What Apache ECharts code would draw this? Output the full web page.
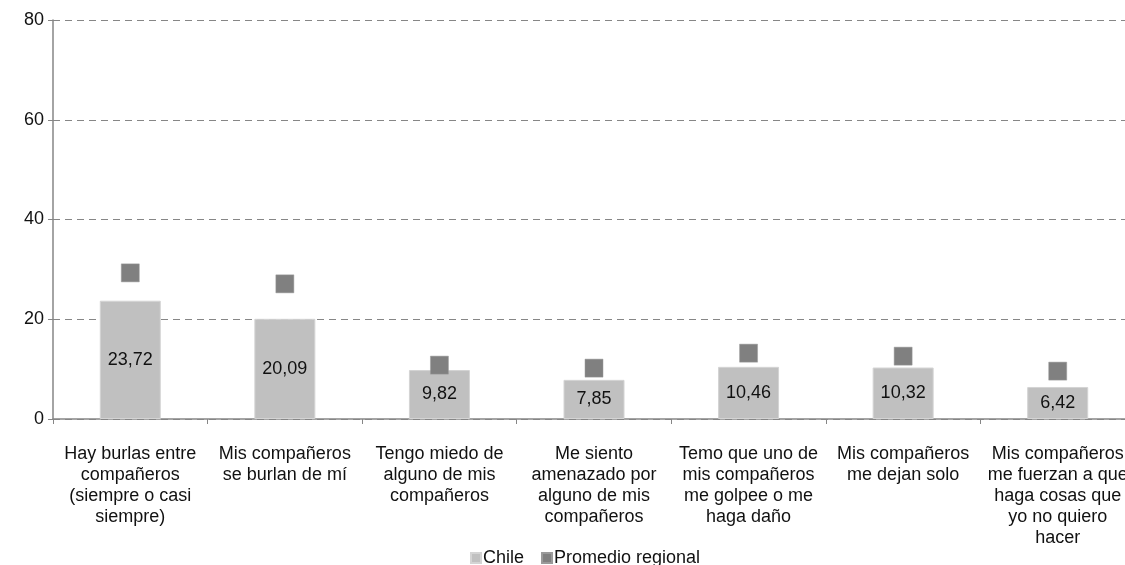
<!DOCTYPE html>
<html>
<head>
<meta charset="utf-8">
<script src="https://cdn.jsdelivr.net/npm/echarts@6/dist/echarts.min.js"></script>
<style>html,body{margin:0;padding:0;background:#fff;overflow:hidden}#c{width:1125px;height:565px}</style>
</head>
<body>
<div id="c"></div>
<script>
const categories = [
  "Hay burlas entre\ncompañeros\n(siempre o casi\nsiempre)",
  "Mis compañeros\nse burlan de mí",
  "Tengo miedo de\nalguno de mis\ncompañeros",
  "Me siento\namenazado por\nalguno de mis\ncompañeros",
  "Temo que uno de\nmis compañeros\nme golpee o me\nhaga daño",
  "Mis compañeros\nme dejan solo",
  "Mis compañeros\nme fuerzan a que\nhaga cosas que\nyo no quiero\nhacer"
];
const chile = [23.72, 20.09, 9.82, 7.85, 10.46, 10.32, 6.42];
const promedioRegional = [29.3, 27.1, 10.8, 10.2, 13.2, 12.6, 9.6];
const yTicks = [0, 20, 40, 60, 80];

const chart = echarts.init(document.getElementById('c'), null, {renderer: 'canvas'});
const font = 'Liberation Sans, Arial, sans-serif';
chart.setOption({
  animation: false,
  textStyle: {fontFamily: font},
  grid: {left: 53, width: 1082, top: 20, bottom: 146, containLabel: false, outerBoundsMode: 'none'},
  legend: {
    top: 549, left: 470, padding: [0, 0, 0, 0],
    itemWidth: 10, itemHeight: 10, itemGap: 17,
    textStyle: {fontFamily: font, fontSize: 18, color: '#111', padding: [0, 0, 0, -3]},
    data: [
      {name: 'Chile', icon: 'rect'},
      {name: 'Promedio regional', icon: 'rect'}
    ]
  },
  xAxis: {
    type: 'category',
    data: categories,
    boundaryGap: true,
    axisLine: {lineStyle: {color: '#868686', width: 1.5}},
    axisTick: {show: true, length: 5, lineStyle: {color: '#868686'}},
    axisLabel: {fontFamily: font, fontSize: 18, color: '#111', lineHeight: 21, margin: 25, interval: 0, align: 'center'}
  },
  yAxis: {
    type: 'value',
    min: yTicks[0], max: yTicks[yTicks.length - 1], interval: 20,
    axisLine: {show: true, lineStyle: {color: '#868686', width: 1.5}},
    axisTick: {show: true, length: 5, lineStyle: {color: '#868686'}},
    axisLabel: {fontFamily: font, fontSize: 18, color: '#111', margin: 9},
    splitLine: {show: true, lineStyle: {color: '#868686', type: [7, 5], width: 1}}
  },
  series: [
    {
      name: 'Chile', type: 'bar', data: chile, barWidth: 61,
      itemStyle: {color: '#c0c0c0', borderColor: '#d4d4d4', borderWidth: 1},
      label: {show: true, position: 'inside', fontFamily: font, fontSize: 18, color: '#111',
        formatter: p => p.value.toFixed(2).replace('.', ',')}
    },
    {
      name: 'Promedio regional', type: 'scatter', data: promedioRegional,
      symbol: 'rect', symbolSize: 18,
      itemStyle: {color: '#808080', borderColor: '#9a9a9a', borderWidth: 0.5, opacity: 1}
    }
  ]
});
</script>
</body>
</html>
